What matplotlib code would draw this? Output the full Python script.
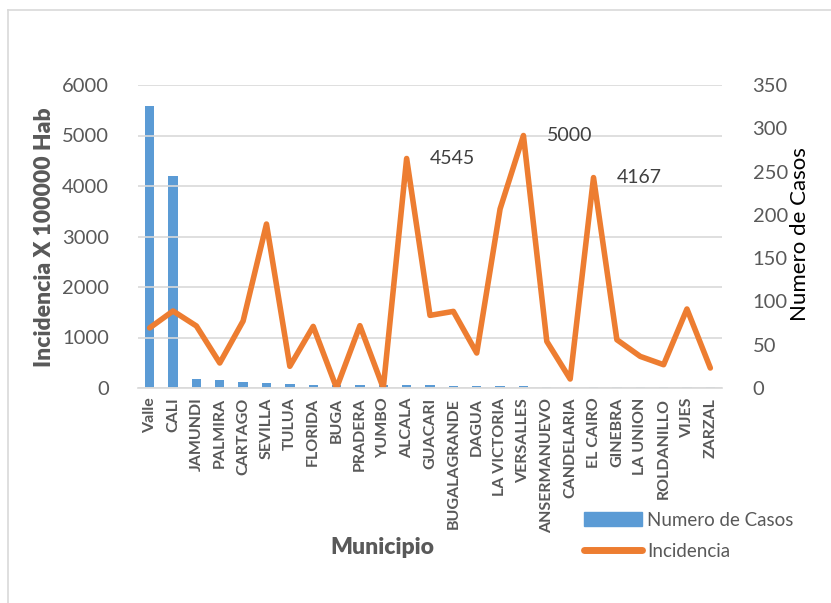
import matplotlib.pyplot as plt
from matplotlib.lines import Line2D
from matplotlib.patches import Patch

plt.rcParams['font.family'] = ['Lato', 'DejaVu Sans']

municipios = ['Valle', 'CALI', 'JAMUNDI', 'PALMIRA', 'CARTAGO', 'SEVILLA', 'TULUA',
              'FLORIDA', 'BUGA', 'PRADERA', 'YUMBO', 'ALCALA', 'GUACARI',
              'BUGALAGRANDE', 'DAGUA', 'LA VICTORIA', 'VERSALLES', 'ANSERMANUEVO',
              'CANDELARIA', 'EL CAIRO', 'GINEBRA', 'LA UNION', 'ROLDANILLO',
              'VIJES', 'ZARZAL']
casos = [326, 245, 10, 9, 7, 6, 5, 4, 3, 3, 3, 3, 3, 2, 2, 2, 2, 1, 1, 1, 1, 1, 1, 1, 1]
incidencia = [1190, 1525, 1228, 495, 1327, 3247, 430, 1220, 0, 1234, 0, 4545, 1438,
              1517, 693, 3545, 5000, 923, 178, 4167, 956, 626, 461, 1564, 396]
etiquetas = {'ALCALA': 4545, 'VERSALLES': 5000, 'EL CAIRO': 4167}

azul = '#5B9BD5'
naranja = '#ED7D31'
gris = '#595959'
grid_c = '#D9D9D9'

fig = plt.figure(figsize=(8.31, 6.03), dpi=100)
W, H = 831, 603

# chart area frame
fig.add_artist(Line2D([8 / W, 1], [1 - 10 / H, 1 - 10 / H], color=grid_c, lw=1.2))
fig.add_artist(Line2D([8 / W, 8 / W], [0, 1 - 10 / H], color=grid_c, lw=1.2))

ax = fig.add_axes([138 / W, 1 - 388 / H, (722 - 138) / W, (388 - 85) / H])
ax2 = ax.twinx()
ax.set_zorder(ax2.get_zorder() + 1)
ax.patch.set_visible(False)

x = list(range(len(municipios)))
ax2.bar(x, casos, width=0.4, color=azul)
ax.plot(x, incidencia, color=naranja, lw=4, solid_joinstyle='round',
        solid_capstyle='round')

for nombre, valor in etiquetas.items():
    i = municipios.index(nombre)
    ax.annotate(str(valor), (i, valor), xytext=(17, 0), textcoords='offset points',
                ha='left', va='center', fontsize=14, color='#404040')

ax.set_xlim(-0.5, len(municipios) - 0.5)
ax.set_ylim(0, 6000)
ax.set_yticks(range(0, 6001, 1000))
ax2.set_ylim(0, 350)
ax2.set_yticks(range(0, 351, 50))
ax.grid(axis='y', color=grid_c, lw=1.2)

for a in (ax, ax2):
    for s in a.spines.values():
        s.set_visible(False)
    a.tick_params(length=0, labelsize=14.5, labelcolor=gris)
ax.spines['bottom'].set_visible(True)
ax.spines['bottom'].set_color(grid_c)
ax.spines['bottom'].set_linewidth(1.2)
ax.tick_params(axis='y', pad=21)
ax2.tick_params(axis='y', pad=22)

ax.set_xticks(x)
ax.set_xticklabels(municipios, rotation=90, fontsize=11.5, fontweight='bold',
                   color=gris)
ax.tick_params(axis='x', pad=7)

fig.text(45 / W, 1 - 237 / H, 'Incidencia X 100000 Hab', rotation=90, ha='center',
         va='center', fontsize=16.5, fontweight='heavy', color=gris)
fig.text(800 / W, 1 - 234 / H, 'Numero de Casos', rotation=90, ha='center',
         va='center', fontsize=16, color='black')
fig.text(382 / W, 1 - 548 / H, 'Municipio', ha='center', va='center', fontsize=16.5,
         fontweight='heavy', color=gris)

handles = [Patch(color=azul), Line2D([0], [0], color=naranja, lw=5,
                                     solid_capstyle='round')]
fig.legend(handles, ['Numero de Casos', 'Incidencia'], loc='upper left',
           bbox_to_anchor=(576 / W, 1 - 504 / H), frameon=False, fontsize=13.5,
           labelcolor=gris, handlelength=3.1, handleheight=0.7, handletextpad=0.3,
           labelspacing=0.75, borderaxespad=0)

fig.savefig('out.png', dpi=100)
